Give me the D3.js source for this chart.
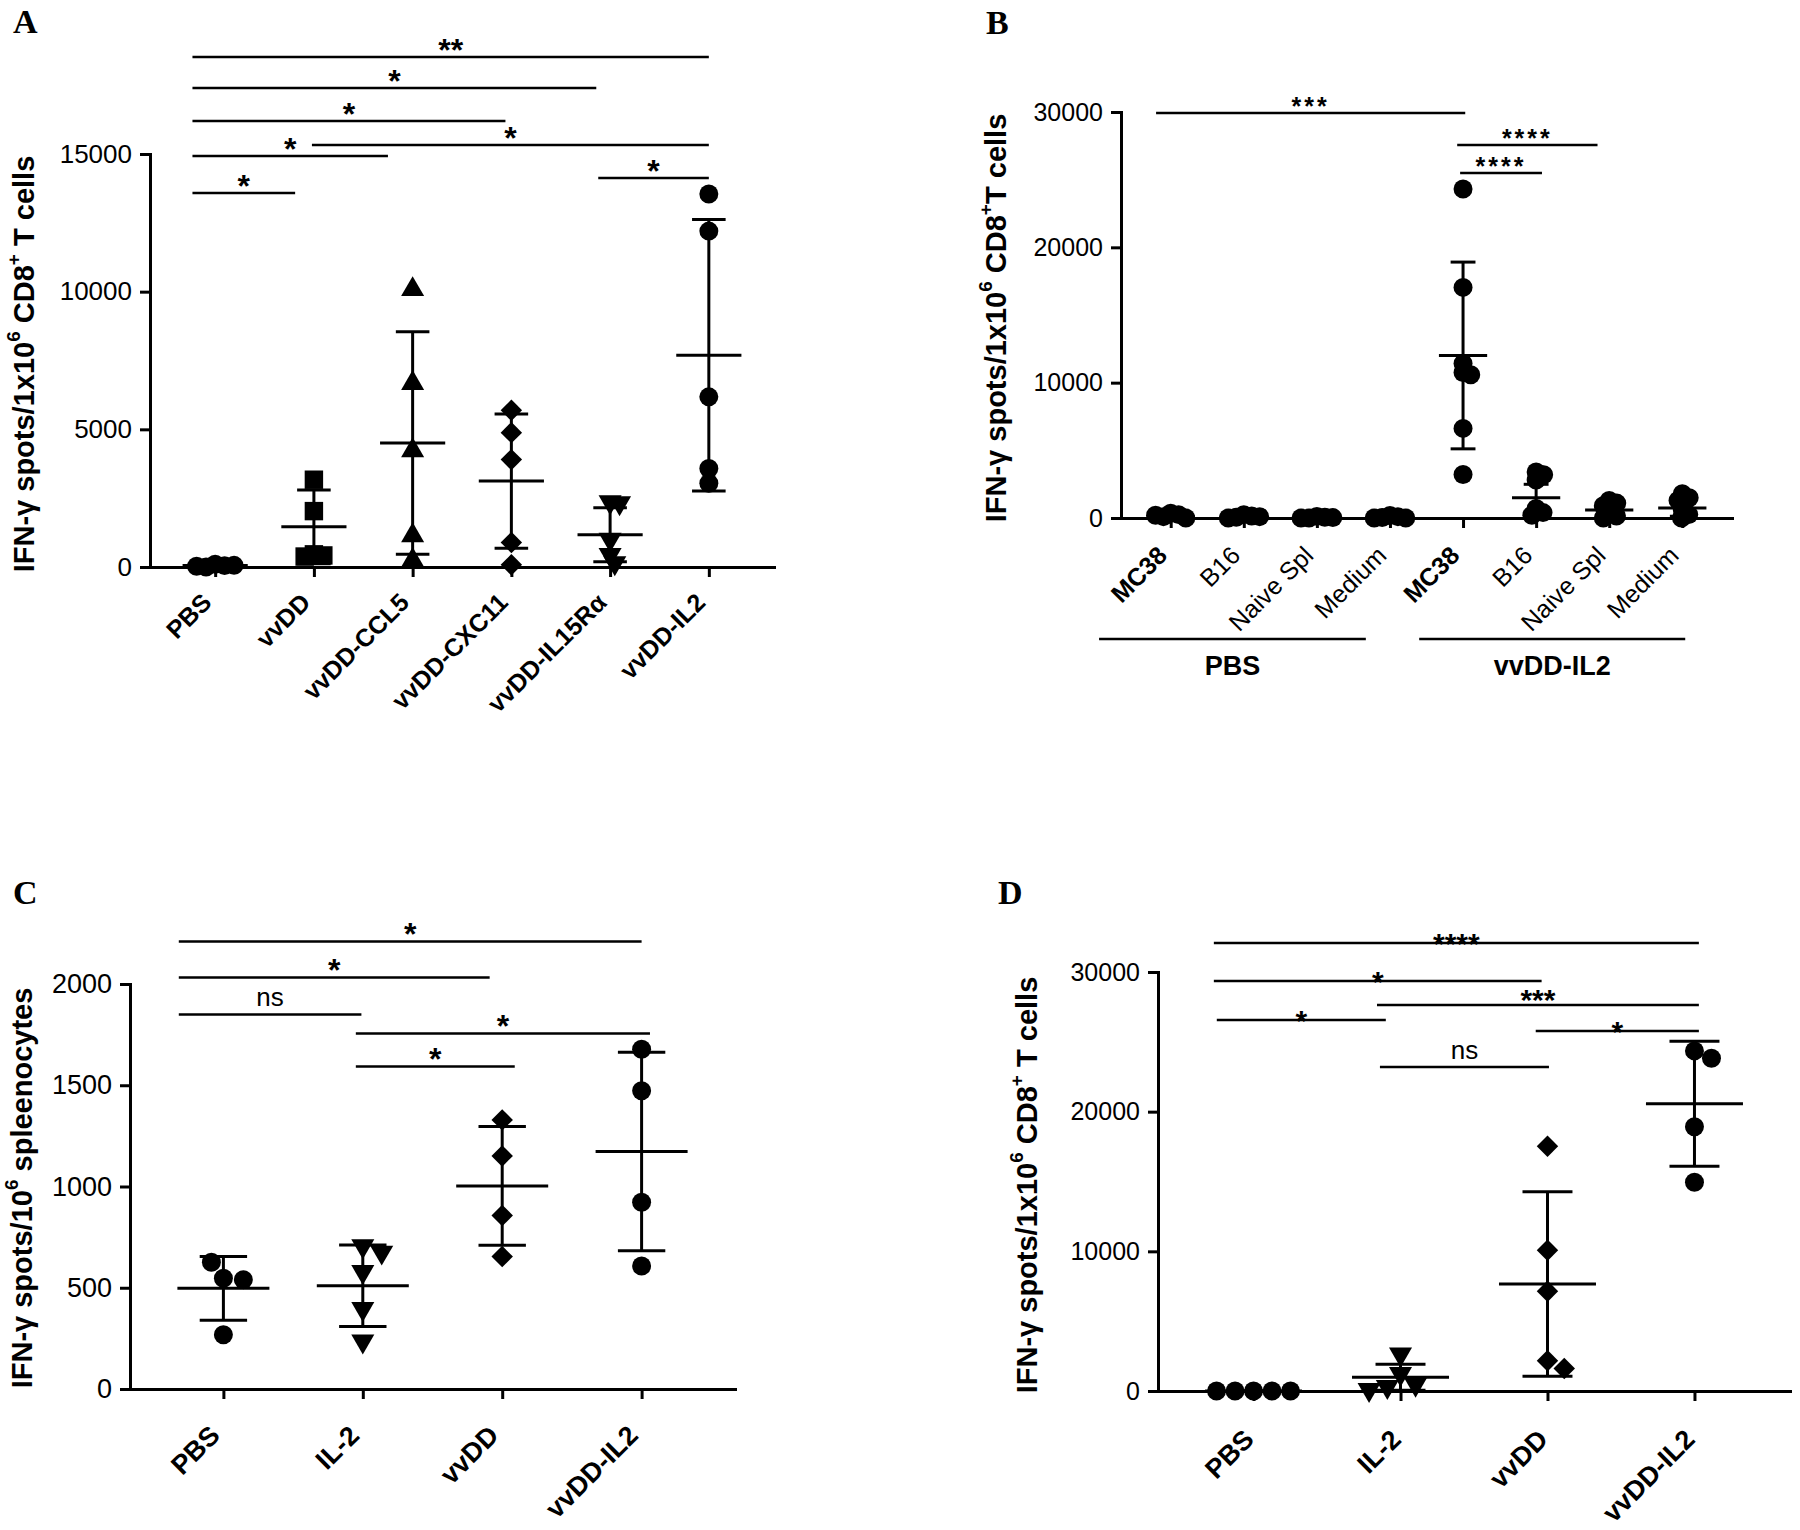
<!DOCTYPE html>
<html><head><meta charset="utf-8">
<script src="https://cdn.jsdelivr.net/npm/d3@7"></script>
<style>
body{margin:0;background:#fff}
svg{display:block}
text{font-family:"Liberation Sans",Arial,sans-serif;fill:#000}
</style>
</head><body>
<svg id="fig" width="1800" height="1530"></svg>
<script>
// ---------------- DATA ----------------
// Panel A
const catsA = ["PBS","vvDD","vvDD-CCL5","vvDD-CXC11","vvDD-IL15Rα","vvDD-IL2"];
const shapesA = ["circle","square","triangle","diamond","triangleDown","circle"];
const valuesA = [
  [100, 50, 0, 30, 60],
  [3170, 2030, 460, 420, 380],
  [10080, 6670, 4230, 1140, 240],
  [5690, 4880, 3900, 890, 80],
  [2360, 2330, 1000, 450, 150],
  [13550, 12200, 6180, 3580, 3040]
];
const meanA = [50, 1460, 4500, 3120, 1170, 7690];
const sdA   = [40, 1340, 4040, 2440, 980, 4930];
const ticksA = [0, 5000, 10000, 15000];
const sigA = [
  {a:0, ao:-0.23, b:5, bo:0.00, y:18525, t:"**"},
  {a:0, ao:-0.23, b:4, bo:-0.14, y:17400, t:"*"},
  {a:0, ao:-0.23, b:3, bo:-0.06, y:16200, t:"*"},
  {a:1, ao:-0.02, b:5, bo:0.00, y:15330, t:"*"},
  {a:0, ao:-0.23, b:2, bo:-0.25, y:14930, t:"*"},
  {a:4, ao:-0.12, b:5, bo:0.00, y:14130, t:"*"},
  {a:0, ao:-0.23, b:1, bo:-0.19, y:13585, t:"*"}
];

// Panel B
const catsB = ["MC38","B16","Naive Spl","Medium","MC38","B16","Naive Spl","Medium"];
const groupsB = [
  {from:0, fromOff:-0.98, to:3, toOff:-0.33, label:"PBS"},
  {from:4, fromOff:-0.60, to:7, toOff:0.04, label:"vvDD-IL2"}
];
const valuesB = [
  [350, 250, 100, 0, 200],
  [250, 150, 50, 0, 100],
  [120, 60, 0, 0, 30],
  [180, 100, 40, 0, 0],
  [24310, 17040, 11410, 10750, 10590, 6620, 3210],
  [3400, 3200, 2800, 700, 400, 200],
  [1300, 1100, 900, 400, 150, 0],
  [1800, 1500, 1300, 600, 250, 0]
];
const meanB = [120, 90, 40, 60, 12010, 1490, 600, 730];
const sdB   = [100, 80, 40, 60, 6900, 1000, 480, 600];
const ticksB = [0, 10000, 20000, 30000];
const sigB = [
  {a:0, ao:-0.20, b:4, bo:0.03, y:29930, t:"***"},
  {a:4, ao:-0.08, b:6, bo:-0.16, y:27570, t:"****"},
  {a:4, ao:-0.04, b:5, bo:0.08, y:25500, t:"****"}
];

// Panel C
const catsC = ["PBS","IL-2","vvDD","vvDD-IL2"];
const shapesC = ["circle","triangleDown","diamond","circle"];
const valuesC = [
  [547, 540, 626, 268],
  [707, 675, 579, 397, 236],
  [1329, 1151, 857, 654],
  [1678, 1473, 922, 607]
];
const meanC = [497, 510, 1003, 1173];
const sdC   = [157, 201, 293, 490];
const ticksC = [0, 500, 1000, 1500, 2000];
const sigC = [
  {a:0, ao:-0.32, b:3, bo:0.00, y:2210, t:"*"},
  {a:0, ao:-0.32, b:2, bo:-0.09, y:2032, t:"*"},
  {a:0, ao:-0.32, b:1, bo:-0.01, y:1850, t:"ns"},
  {a:1, ao:-0.05, b:3, bo:0.06, y:1756, t:"*"},
  {a:1, ao:-0.05, b:2, bo:0.09, y:1593, t:"*"}
];

// Panel D
const catsD = ["PBS","IL-2","vvDD","vvDD-IL2"];
const shapesD = ["circle","triangleDown","diamond","circle"];
const valuesD = [
  [0, 0, 0, 0, 0],
  [2640, 1240, 470, 310, 100],
  [17530, 10080, 7140, 2170, 1610],
  [24350, 23830, 18920, 14950]
];
const meanD = [0, 990, 7660, 20570];
const sdD   = [0, 930, 6610, 4470];
const ticksD = [0, 10000, 20000, 30000];
const sigD = [
  {a:0, ao:-0.27, b:3, bo:0.03, y:32075, t:"****"},
  {a:0, ao:-0.27, b:2, bo:-0.04, y:29355, t:"*"},
  {a:1, ao:-0.16, b:3, bo:0.03, y:27640, t:"***"},
  {a:0, ao:-0.25, b:1, bo:-0.10, y:26565, t:"*"},
  {a:2, ao:-0.08, b:3, bo:0.03, y:25775, t:"*"},
  {a:1, ao:-0.14, b:2, bo:0.01, y:23200, t:"ns"}
];

// ---------------- SYMBOLS ----------------
const symDiamond = {draw(ctx, size){ const r = Math.sqrt(size/2);
  ctx.moveTo(0,-r); ctx.lineTo(r,0); ctx.lineTo(0,r); ctx.lineTo(-r,0); ctx.closePath(); }};
const symTriDown = {draw(ctx, size){ const s = Math.sqrt(size*4/Math.sqrt(3)); const h = s*Math.sqrt(3)/2;
  ctx.moveTo(-s/2,-h/3); ctx.lineTo(s/2,-h/3); ctx.lineTo(0,2*h/3); ctx.closePath(); }};
const symbolDefs = {
  circle: [d3.symbolCircle, 283],
  square: [d3.symbolSquare, 340],
  triangle: [d3.symbolTriangle, 230],
  triangleDown: [symTriDown, 230],
  diamond: [symDiamond, 230]
};

const svg = d3.select("#fig");
const FONT = '"Liberation Sans", Arial, sans-serif';

function dodge(vals, y, d){
  const placed = [];
  return vals.map(v => {
    const py = y(v);
    const cands = [0];
    placed.forEach(p => {
      const dy = Math.abs(py - p.y);
      if (dy < d){ const w = Math.sqrt(d*d - dy*dy); cands.push(p.dx + w, p.dx - w); }
    });
    cands.sort((a,b) => Math.abs(a)-Math.abs(b) || b-a);
    let dx = 0;
    for (const c of cands){
      if (placed.every(p => (c-p.dx)*(c-p.dx) + (py-p.y)*(py-p.y) >= d*d - 0.01)){ dx = c; break; }
    }
    placed.push({dx, y:py});
    return {v, dx, y:py};
  });
}

function panel(cfg){
  const g = svg.append("g");
  const idx = d3.range(cfg.cats.length);
  const x = d3.scalePoint().domain(idx).range(cfg.xRange).padding(cfg.pad);
  const y = d3.scaleLinear().domain(cfg.yDomain).range(cfg.yRange);
  const step = x.step();

  // panel letter
  g.append("text").attr("x", cfg.letter[1]).attr("y", cfg.letter[2])
    .style("font-family", '"Liberation Serif","Times New Roman",serif')
    .attr("font-weight","bold").attr("font-size", 34).text(cfg.letter[0]);

  // y axis
  const ya = g.append("g").attr("transform", `translate(${cfg.xRange[0]},0)`)
    .call(d3.axisLeft(y).tickValues(cfg.ticks).tickFormat(d3.format("d"))
      .tickSize(10).tickSizeOuter(0).tickPadding(8));
  ya.attr("font-family", FONT).attr("font-size", cfg.tickFont);
  ya.select(".domain").attr("stroke","#000").attr("stroke-width",3).attr("stroke-linecap","square");
  ya.selectAll(".tick line").attr("stroke","#000").attr("stroke-width",3);
  ya.selectAll(".tick text").attr("fill","#000");

  // x axis
  const xa = g.append("g").attr("transform", `translate(0,${cfg.yRange[0]})`)
    .call(d3.axisBottom(x).tickSize(10).tickSizeOuter(0).tickFormat(""));
  xa.select(".domain").attr("stroke","#000").attr("stroke-width",3).attr("stroke-linecap","square");
  xa.selectAll(".tick line").attr("stroke","#000").attr("stroke-width",3);

  // category labels
  g.selectAll(".cat").data(cfg.cats).join("text").attr("class","cat")
    .attr("transform", (d,i) => `translate(${x(i)+cfg.catDx},${cfg.yRange[0]+cfg.catDy}) rotate(-45)`)
    .attr("text-anchor","end")
    .attr("font-size", cfg.catFont)
    .attr("font-weight", d => cfg.catWeight ? cfg.catWeight(d) : "bold")
    .text(d => d);

  // y title
  const t = g.append("text")
    .attr("transform", `translate(${cfg.title[0]},${cfg.title[1]}) rotate(-90)`)
    .attr("text-anchor","middle").attr("dominant-baseline","central")
    .attr("font-weight","bold").attr("font-size", 29);
  cfg.titleParts.forEach(p => {
    const ts = t.append("tspan").text(p[0]);
    if (p[1]) ts.attr("font-size", 19).attr("dy", -11);
    else if (p[2]) ts.attr("dy", 11);
  });

  // points
  idx.forEach(i => {
    const sd = symbolDefs[cfg.shapes ? cfg.shapes[i] : "circle"];
    const pts = dodge(cfg.values[i], y, cfg.dodge);
    g.append("g").selectAll("path").data(pts).join("path")
      .attr("d", d3.symbol().type(sd[0]).size(sd[1]))
      .attr("transform", p => `translate(${x(i)+p.dx},${p.y})`)
      .attr("fill","#000");
  });

  // mean + SD
  idx.forEach(i => {
    const cx = x(i), m = cfg.mean[i], s = cfg.sd[i];
    const hw = step*0.33, cw = step*0.17;
    const lines = [
      [cx-hw, y(m), cx+hw, y(m)],
      [cx, y(m-s), cx, y(m+s)],
      [cx-cw, y(m+s), cx+cw, y(m+s)],
      [cx-cw, y(m-s), cx+cw, y(m-s)]
    ];
    g.append("g").selectAll("line").data(lines).join("line")
      .attr("x1",d=>d[0]).attr("y1",d=>d[1]).attr("x2",d=>d[2]).attr("y2",d=>d[3])
      .attr("stroke","#000").attr("stroke-width",3);
  });

  // significance bars
  cfg.sig.forEach(s => {
    const x1 = x(s.a) + s.ao*step, x2 = x(s.b) + s.bo*step, yy = y(s.y);
    g.append("line").attr("x1",x1).attr("x2",x2).attr("y1",yy).attr("y2",yy)
      .attr("stroke","#000").attr("stroke-width",2.5);
    const isNs = s.t === "ns";
    const off = isNs ? 15 : (s.t === "***" ? Math.max(cfg.starOff, 12) : cfg.starOff);
    const fs = isNs ? 26 : cfg.starFont;
    g.append("text").attr("x",(x1+x2)/2)
      .attr("y", isNs ? yy - off + 7 : yy - off + fs*0.57)
      .attr("text-anchor","middle")
      .attr("font-size", fs)
      .attr("letter-spacing", isNs ? 0 : cfg.starSpacing)
      .attr("font-weight", isNs ? "normal" : "bold")
      .text(s.t);
  });

  // group underlines (panel B)
  if (cfg.groups){
    cfg.groups.forEach(gr => {
      const x1 = x(gr.from) + gr.fromOff*step, x2 = x(gr.to) + gr.toOff*step;
      g.append("line").attr("x1",x1).attr("x2",x2).attr("y1",cfg.groupY).attr("y2",cfg.groupY)
        .attr("stroke","#000").attr("stroke-width",2.5);
      g.append("text").attr("x",(x1+x2)/2).attr("y",cfg.groupY+36)
        .attr("text-anchor","middle").attr("font-weight","bold").attr("font-size",27).text(gr.label);
    });
  }
}

const titleCD8 = [["IFN-γ spots/1x10"],["6",true],[" CD8",false,true],["+",true],[" T cells",false,true]];

panel({cats:catsA, shapes:shapesA, values:valuesA, mean:meanA, sd:sdA, ticks:ticksA, sig:sigA,
  xRange:[150,774], yRange:[567,154], yDomain:[0,15000], pad:0.66,
  tickFont:26, catFont:25, catDx:-2, catDy:37, dodge:9.5, starOff:14, starFont:32, starSpacing:0,
  title:[24,364], titleParts:titleCD8, letter:["A",13,33]});

panel({cats:catsB, values:valuesB, mean:meanB, sd:sdB, ticks:ticksB, sig:sigB, groups:groupsB, groupY:639,
  xRange:[1121,1732], yRange:[518,112], yDomain:[0,30000], pad:0.68,
  tickFont:25, catFont:25, catDx:-2, catDy:39, dodge:8, starOff:12, starFont:25, starSpacing:3,
  catWeight: d => d === "MC38" ? "bold" : "normal",
  title:[996,318], titleParts:[["IFN-γ spots/1x10"],["6",true],[" CD8",false,true],["+",true],["T cells",false,true]],
  letter:["B",986,34]});

panel({cats:catsC, shapes:shapesC, values:valuesC, mean:meanC, sd:sdC, ticks:ticksC, sig:sigC,
  xRange:[130,735], yRange:[1389,984], yDomain:[0,2000], pad:0.67,
  tickFont:27, catFont:27, catDx:-2, catDy:48, dodge:20, starOff:15, starFont:32, starSpacing:0,
  title:[22,1188], titleParts:[["IFN-γ spots/10"],["6",true],[" spleenocytes",false,true]],
  letter:["C",13,904]});

panel({cats:catsD, shapes:shapesD, values:valuesD, mean:meanD, sd:sdD, ticks:ticksD, sig:sigD,
  xRange:[1158,1790], yRange:[1391,972], yDomain:[0,30000], pad:0.65,
  tickFont:25, catFont:27, catDx:2, catDy:50, dodge:18.5, starOff:6, starFont:30, starSpacing:0,
  title:[1027,1185], titleParts:titleCD8, letter:["D",998,904]});
</script>
</body></html>
